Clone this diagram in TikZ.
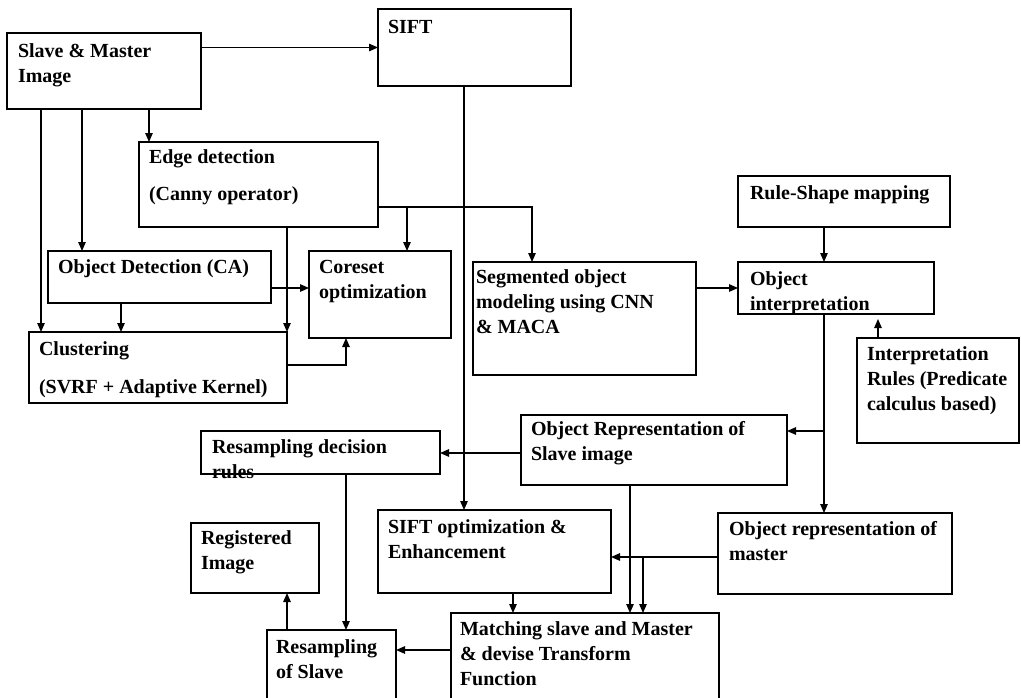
\documentclass[tikz,border=0pt]{standalone}
\usepackage{fontspec}
\setmainfont{Liberation Serif}
\usetikzlibrary{arrows.meta,calc}
\tikzset{
  boxst/.style={draw, line width=1.2pt, inner sep=0pt, outer sep=0pt},
  txt/.style={anchor=base west, inner sep=0pt, outer sep=0pt, font=\fontsize{20}{25}\selectfont\bfseries},
  arr/.style={line width=1.2pt, -{Triangle[length=9pt,width=7.5pt]}},
}
\newcommand\tl[1]{\begin{tabular}[t]{@{}l@{}}#1\end{tabular}}
\newcommand\bx[5]{\node[boxst, minimum width={(#4-#2)*1pt}, minimum height={(#5-#3)*1pt}, anchor=north west] (#1) at (#2,#3) {};}
\newcommand\tx[4]{\node[txt] (#1-t) at ($(#1.north west)+(#2,#3)$) {\tl{#4}};}
\begin{document}
\begin{tikzpicture}[x=1pt,y=-1pt]
\path[use as bounding box] (0,0) rectangle (1021,697);
\fill[white] (0,0) rectangle (1021,697);
\clip (0,0) rectangle (1021,697);
% boxes
\bx{sm}{7}{33}{201}{109}      \tx{sm}{11}{24}{Slave \& Master\\Image}
\bx{sift}{378}{9}{571}{86}    \tx{sift}{10}{24}{SIFT}
\bx{ed}{139}{142}{378}{227}   \tx{ed}{10}{21}{Edge detection\\[12pt](Canny operator)}
\bx{rs}{738}{176}{950}{227}   \tx{rs}{12}{23}{Rule-Shape mapping}
\bx{od}{48}{251}{271}{303}    \tx{od}{10}{22}{Object Detection (CA)}
\bx{cs}{309}{251}{451}{338}   \tx{cs}{10}{22}{Coreset\\optimization}
\bx{cl}{29}{332}{287}{403}    \tx{cl}{10}{23}{Clustering\\[13pt](SVRF + Adaptive Kernel)}
\bx{seg}{473}{262}{696}{375}  \tx{seg}{3}{21}{Segmented object\\modeling using CNN\\\& MACA}
\bx{oi}{738}{262}{934}{314}   \tx{oi}{12}{23}{Object\\interpretation}
\bx{ir}{857}{338}{1019}{443}  \tx{ir}{10}{22}{Interpretation\\Rules (Predicate\\calculus based)}
\bx{ors}{521}{415}{787}{485}  \tx{ors}{10}{20}{Object Representation of\\Slave image}
\bx{rdr}{201}{431}{440}{474}  \tx{rdr}{11}{22}{Resampling decision\\rules}
\bx{so}{378}{510}{611}{593}   \tx{so}{10}{23}{SIFT optimization \&\\Enhancement}
\bx{orm}{718}{513}{952}{594}  \tx{orm}{11}{22}{Object representation of\\master}
\bx{reg}{191}{523}{319}{593}  \tx{reg}{10}{21}{Registered\\Image}
\bx{ros}{267}{630}{396}{712}  \tx{ros}{9}{23}{Resampling\\of Slave}
\bx{mt}{451}{613}{719}{712}   \tx{mt}{9}{22}{Matching slave and Master\\\& devise Transform\\Function}
% routing columns and rows
\coordinate (c41) at (41,0);   \coordinate (c82) at (82,0);
\coordinate (c121) at (121,0); \coordinate (c149) at (149,0);
\coordinate (c287) at (287,0); \coordinate (c346) at (346,0);
\coordinate (c407) at (407,0); \coordinate (c464) at (464,0);
\coordinate (c513) at (513,0); \coordinate (c532) at (532,0);
\coordinate (c630) at (630,0); \coordinate (c643) at (643,0);
\coordinate (c824) at (824,0); \coordinate (c878) at (878,0);
\coordinate (r207) at (0,207); \coordinate (r288) at (0,288);
\coordinate (r365) at (0,365); \coordinate (r431) at (0,431);
\coordinate (r453) at (0,453); \coordinate (r557) at (0,557);
\coordinate (r650) at (0,650);
% connectors
\draw[arr] (sm.east |- sift.west) -- (sift.west);
\draw[arr] (sm.south -| c149) -- (ed.north -| c149);
\draw[arr] (sm.south -| c41) -- (cl.north -| c41);
\draw[arr] (sm.south -| c82) -- (od.north -| c82);
\draw[arr] (ed.south -| cl.north east) -- (cl.north east);
\draw[arr] (ed.east |- r207) -| (seg.north -| c532);
\draw[arr] (c407 |- r207) -- (cs.north -| c407);
\draw[arr] (sift.south -| c464) -- (so.north -| c464);
\draw[arr] (od.east |- r288) -- (cs.west |- r288);
\draw[arr] (od.south -| c121) -- (cl.north -| c121);
\draw[arr] (cl.east |- r365) -| (cs.south -| c346);
\draw[arr] (rs.south -| c824) -- (oi.north -| c824);
\draw[arr] (seg.east |- r288) -- (oi.west |- r288);
\draw[arr, shorten >=5pt] (ir.north -| c878) -- (oi.south -| c878);
\draw[arr] (oi.south -| c824) -- (orm.north -| c824);
\draw[arr] (c824 |- r431) -- (ors.east |- r431);
\draw[arr] (ors.west |- r453) -- (rdr.east |- r453);
\draw[arr] (ors.south -| c630) -- (mt.north -| c630);
\draw[arr] (orm.west |- r557) -- (so.east |- r557);
\draw[arr] (c643 |- r557) -- (mt.north -| c643);
\draw[arr] (so.south -| c513) -- (mt.north -| c513);
\draw[arr] (rdr.south -| c346) -- (ros.north -| c346);
\draw[arr] (mt.west |- r650) -- (ros.east |- r650);
\draw[arr] (ros.north -| c287) -- (reg.south -| c287);
\end{tikzpicture}
\end{document}
